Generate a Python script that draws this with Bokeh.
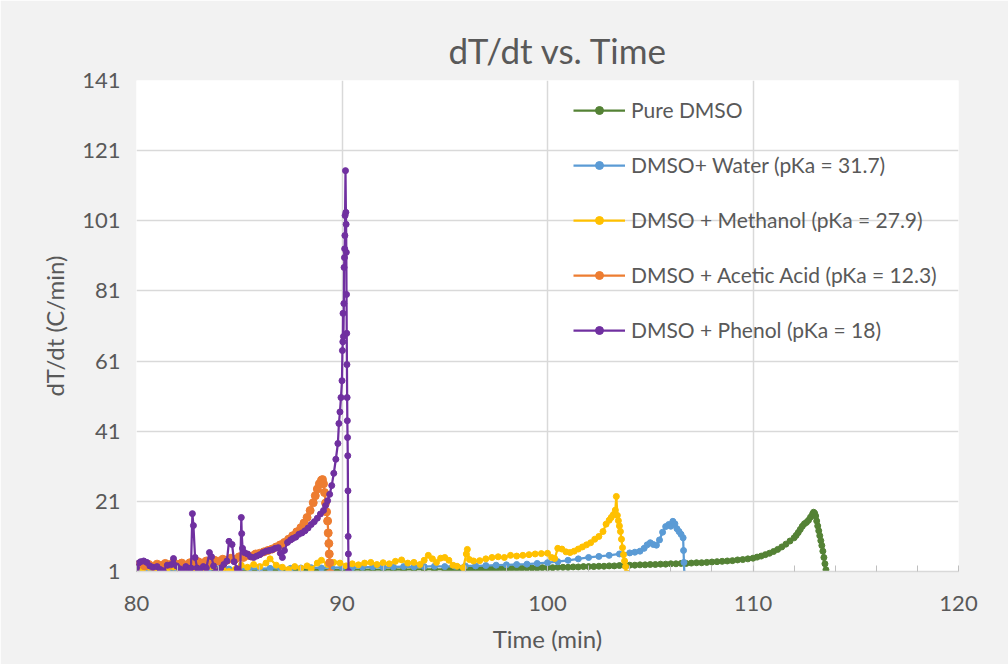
from bokeh.plotting import figure
from bokeh.models import Range1d, FixedTicker, SingleIntervalTicker, Legend, LegendItem
from bokeh.embed import file_html
from bokeh.resources import INLINE

FONT = "Lato"
TXT = "#595959"

title = "dT/dt vs. Time"
x_label = "Time (min)"
y_label = "dT/dt (C/min)"
y_ticks = [1, 21, 41, 61, 81, 101, 121, 141]

names = ["Pure DMSO", "DMSO+ Water (pKa = 31.7)", "DMSO + Methanol (pKa = 27.9)",
         "DMSO + Acetic Acid (pKa = 12.3)", "DMSO + Phenol (pKa = 18)"]
colors = ["#548235", "#5b9bd5", "#ffc000", "#ed7d31", "#7030a0"]

# Pure DMSO
dmso_t = [80.0, 80.5, 81.0, 81.5, 82.0, 82.5, 83.0, 83.5, 84.0, 84.5, 85.0, 85.5, 86.0, 86.5, 87.0,
          87.5, 88.0, 88.5, 89.0, 89.5, 90.0, 90.5, 91.0, 91.5, 92.0, 92.5, 93.0, 93.5, 94.0, 94.5,
          95.0, 95.25, 95.5, 95.75, 96.0, 96.25, 96.5, 96.75, 97.0, 97.25, 97.5, 97.75, 98.0, 98.25,
          98.5, 98.75, 99.0, 99.25, 99.5, 99.75, 100.0, 100.25, 100.5, 100.75, 101.0, 101.25, 101.5,
          101.75, 102.0, 102.25, 102.5, 102.75, 103.0, 103.25, 103.5, 103.75, 104.0, 104.25, 104.5,
          104.75, 105.0, 105.25, 105.5, 105.75, 106.0, 106.25, 106.5, 106.75, 107.0, 107.25, 107.5,
          107.75, 108.0, 108.25, 108.5, 108.75, 109.0, 109.25, 109.5, 109.75, 110.0,
          110.2, 110.4, 110.6, 110.8, 111.0, 111.2, 111.4, 111.6, 111.8, 112.0, 112.1, 112.2, 112.3,
          112.4, 112.5, 112.6, 112.7, 112.8, 112.9, 112.95, 113.0, 113.05, 113.1, 113.15, 113.2,
          113.25, 113.3, 113.35, 113.4, 113.45, 113.5, 113.55]
dmso_v = [1.1, 1.1, 1.2, 1.1, 1.2, 1.2, 1.2, 1.3, 1.2, 1.3, 1.3, 1.3, 1.3, 1.4, 1.3,
          1.4, 1.4, 1.4, 1.4, 1.5, 1.4, 1.5, 1.5, 1.5, 1.5, 1.6, 1.5, 1.6, 1.6, 1.6,
          1.6, 1.7, 1.6, 1.7, 1.7, 1.7, 1.8, 1.7, 1.8, 1.8, 1.8, 1.9, 1.8, 1.9,
          1.9, 1.9, 2.0, 2.0, 2.0, 2.1, 2.1, 2.1, 2.2, 2.2, 2.2, 2.3, 2.3,
          2.4, 2.4, 2.4, 2.5, 2.5, 2.6, 2.6, 2.7, 2.7, 2.8, 2.8, 2.9,
          2.9, 3.0, 3.0, 3.1, 3.1, 3.2, 3.2, 3.3, 3.3, 3.4, 3.5, 3.5,
          3.6, 3.7, 3.8, 3.9, 4.0, 4.1, 4.3, 4.4, 4.6, 4.8,
          5.1, 5.4, 5.8, 6.2, 6.7, 7.3, 8.0, 8.8, 9.7, 10.6, 11.3, 12.1, 13.0,
          13.9, 14.6, 15.0, 15.6, 16.5, 17.4, 17.9, 17.6, 16.8, 15.4, 14.0, 12.6,
          11.2, 9.8, 8.4, 6.8, 5.0, 3.2, 1.5]

# DMSO + Water
water_t = [80.0, 80.5, 81.0, 81.5, 82.0, 82.5, 83.0, 83.5, 84.0, 84.5, 85.0, 85.5, 86.0, 86.5,
           87.0, 87.5, 88.0, 88.5, 89.0, 89.5, 90.0, 90.5, 91.0, 91.5, 92.0, 92.5, 93.0, 93.5,
           94.0, 94.5, 95.0, 95.5, 96.0, 96.5, 97.0, 97.5, 98.0, 98.5, 99.0, 99.5, 100.0, 100.5,
           101.0, 101.5, 102.0, 102.5, 103.0, 103.5, 104.0, 104.25, 104.5, 104.7, 104.85, 105.0,
           105.15, 105.3, 105.45, 105.6, 105.75, 105.9, 106.0, 106.1, 106.2, 106.3, 106.4, 106.5,
           106.6, 106.62, 106.64, 106.66]
water_v = [1.5, 1.4, 1.6, 1.5, 1.6, 1.7, 1.6, 1.7, 1.8, 1.7, 1.8, 1.9, 1.8, 1.9,
           2.0, 1.9, 2.0, 2.1, 2.0, 2.1, 2.2, 2.1, 2.2, 2.3, 2.2, 2.3, 2.4, 2.3,
           2.4, 2.5, 2.4, 2.5, 2.6, 2.6, 2.7, 2.8, 2.9, 3.0, 3.1, 3.3, 3.5, 3.8,
           4.2, 4.6, 5.0, 5.3, 5.6, 6.0, 6.3, 6.5, 6.8, 7.6, 8.6, 9.2,
           8.7, 8.5, 10.0, 12.2, 13.8, 14.4, 13.9, 15.3, 14.6, 13.2, 12.4, 11.6,
           10.6, 7.0, 3.6, 0.3]

# DMSO + Methanol
meoh_t = [80.0, 80.3, 80.6, 80.9, 81.2, 81.5, 81.8, 82.1, 82.4, 82.7, 83.0, 83.3, 83.6, 83.9,
          84.2, 84.5, 84.8, 85.1, 85.4, 85.7, 86.0, 86.3, 86.5, 86.8, 87.1, 87.4, 87.7, 88.0,
          88.3, 88.5, 88.8, 89.0, 89.3, 89.6, 89.9, 90.2, 90.5, 90.8, 91.1, 91.4, 91.7, 92.0,
          92.3, 92.6, 92.9, 93.2, 93.5, 93.8, 94.0, 94.2, 94.4, 94.6, 94.8, 95.0, 95.2, 95.4,
          95.6, 95.9, 96.05, 96.1, 96.2, 96.4, 96.7, 97.0, 97.3, 97.6, 97.9, 98.2, 98.5, 98.8,
          99.1, 99.4, 99.7, 100.0, 100.2, 100.35, 100.5, 100.7, 100.9, 101.1, 101.3, 101.5,
          101.7, 101.9, 102.1, 102.3, 102.5, 102.7, 102.85, 103.0, 103.1, 103.2, 103.3, 103.35,
          103.4, 103.45, 103.5, 103.55, 103.6, 103.65, 103.7, 103.75, 103.8, 103.85]
meoh_v = [2.0, 1.7, 2.2, 1.6, 2.4, 1.8, 2.3, 1.5, 2.1, 1.4, 2.6, 1.8, 2.4, 1.2,
          2.0, 1.0, 1.6, 2.8, 2.2, 3.0, 2.4, 3.4, 4.6, 2.8, 2.2, 1.6, 2.4, 1.9,
          2.6, 1.7, 3.4, 4.2, 3.0, 3.6, 3.4, 2.6, 3.2, 2.9, 3.4, 3.6, 3.0, 3.5,
          3.2, 3.9, 4.3, 3.4, 3.6, 3.0, 4.2, 5.6, 4.6, 3.6, 4.8, 5.0, 4.2, 2.8,
          2.5, 2.1, 6.0, 7.3, 4.4, 4.0, 4.1, 4.6, 5.0, 5.2, 5.0, 5.6, 5.4, 5.6,
          5.8, 6.0, 6.1, 6.2, 5.0, 4.7, 7.6, 7.4, 6.6, 6.4, 6.8, 7.4,
          8.0, 8.6, 9.2, 10.2, 11.0, 12.4, 14.5, 15.6, 16.4, 17.2, 18.5, 22.4,
          17.0, 15.5, 14.0, 12.4, 10.2, 7.8, 5.8, 4.0, 2.4, 0.6]

# DMSO + Acetic Acid
acid_t = [80.0, 80.2, 80.4, 80.6, 80.8, 81.0, 81.2, 81.4, 81.6, 81.8, 82.0, 82.2, 82.4, 82.6,
          82.8, 83.0, 83.2, 83.4, 83.6, 83.8, 84.0, 84.2, 84.4, 84.6, 84.8, 85.0, 85.2, 85.4,
          85.6, 85.8, 86.0, 86.2, 86.4, 86.6, 86.8, 87.0, 87.2, 87.4, 87.6, 87.8, 88.0, 88.15,
          88.3, 88.45, 88.6, 88.7, 88.8, 88.9, 89.0, 89.05, 89.1, 89.15, 89.2, 89.25, 89.3,
          89.33, 89.36, 89.38, 89.4, 89.42]
acid_v = [2.8, 3.2, 2.6, 3.0, 2.4, 3.1, 2.7, 3.3, 2.9, 3.6, 3.0, 3.4, 2.8, 3.5,
          3.2, 3.8, 3.4, 4.0, 3.6, 4.2, 3.9, 4.5, 4.2, 4.8, 4.5, 5.2, 5.0, 5.6,
          5.4, 6.0, 6.2, 6.6, 7.0, 7.4, 8.0, 8.6, 9.3, 10.2, 11.2, 12.3, 13.5, 14.8,
          16.4, 18.4, 20.6, 22.6, 24.5, 26.0, 27.0, 27.2, 26.0, 23.5, 20.5, 18.0, 15.4,
          12.0, 9.0, 6.0, 3.5, 0.5]

# DMSO + Phenol
phenol_t = [80.0, 80.1, 80.2, 80.35, 80.5, 80.65, 80.8, 81.0, 81.15, 81.3, 81.5, 81.7, 81.8,
            81.95, 82.1, 82.25, 82.4, 82.55, 82.65, 82.72, 82.77, 82.85, 82.95, 83.1, 83.25,
            83.4, 83.55, 83.65, 83.75, 83.85, 83.95, 84.1, 84.25, 84.4, 84.5, 84.65, 84.75,
            84.9, 85.05, 85.1, 85.12, 85.16, 85.25, 85.4, 85.55, 85.7, 85.85, 86.0, 86.15,
            86.3, 86.45, 86.6, 86.75, 86.9, 87.0, 87.1, 87.2, 87.35, 87.5, 87.6, 87.75, 87.9,
            88.05, 88.2, 88.35, 88.5, 88.65, 88.8, 88.95, 89.1, 89.2, 89.3, 89.4, 89.5, 89.6,
            89.7, 89.8, 89.85, 89.9, 89.95, 90.0, 90.02, 90.04, 90.05, 90.07, 90.09, 90.1,
            90.12, 90.13, 90.14, 90.15, 90.17, 90.19, 90.2, 90.21, 90.22, 90.23, 90.24, 90.25,
            90.26, 90.27, 90.28, 90.29, 90.3, 90.31, 90.32]
phenol_v = [2.0, 3.4, 3.8, 4.0, 3.6, 2.6, 2.2, 2.4, 1.6, 1.2, 2.8, 3.0, 4.7,
            2.6, 1.8, 1.3, 2.4, 1.5, 2.0, 17.5, 14.1, 5.0, 2.0, 1.6, 2.4,
            2.0, 6.4, 5.2, 2.6, 0.8, 1.0, 2.0, 3.0, 4.0, 9.6, 8.7, 3.8,
            1.8, 0.6, 16.4, 11.8, 7.6, 6.4, 6.0, 5.2, 5.0, 5.4, 5.8, 6.4,
            6.8, 7.0, 7.2, 7.6, 7.8, 6.2, 5.0, 7.0, 9.3, 10.0, 10.4, 10.8, 11.6,
            12.0, 12.6, 13.4, 14.4, 15.2, 16.2, 17.4, 18.4, 19.8, 21.2, 23.0, 25.5, 29.0,
            33.0, 37.5, 43.2, 46.5, 50.6, 55.4, 64.0, 66.5, 74.6, 68.0, 77.4, 87.7,
            90.5, 93.0, 96.8, 102.5, 115.3, 103.4, 100.0, 92.0, 80.0, 68.9, 60.0, 50.6,
            44.0, 39.2, 34.0, 24.0, 11.0, 6.0, 1.0]

series_t = [dmso_t, water_t, meoh_t, acid_t, phenol_t]
series_v = [dmso_v, water_v, meoh_v, acid_v, phenol_v]
marker_sizes = [6, 6, 6, 8, 6]

p = figure(width=1008, height=664, x_range=Range1d(80, 120), y_range=Range1d(1, 141),
           output_backend="svg", toolbar_location=None,
           min_border_left=136, min_border_right=50, min_border_top=80, min_border_bottom=93)
p.background_fill_color = "white"
p.border_fill_color = "#f2f2f2"
p.outline_line_color = None

p.title.text = title
p.title.align = "left"
p.title.text_font = FONT
p.title.text_font_size = "35px"
p.title.text_font_style = "normal"
p.title.text_color = TXT
p.title.offset = 312
p.title.standoff = 20

p.xaxis.ticker = SingleIntervalTicker(interval=10, num_minor_ticks=5)
p.yaxis.ticker = FixedTicker(ticks=y_ticks)
p.xgrid.ticker = SingleIntervalTicker(interval=10)
p.ygrid.ticker = FixedTicker(ticks=y_ticks)
for g in (p.xgrid, p.ygrid):
    g.grid_line_color = "#d9d9d9"
    g.grid_line_width = 1.5

p.xaxis.axis_label = x_label
p.yaxis.axis_label = y_label
for ax in (p.xaxis, p.yaxis):
    ax.axis_label_text_font = FONT
    ax.axis_label_text_font_size = "24px"
    ax.axis_label_text_font_style = "normal"
    ax.axis_label_text_color = TXT
    ax.major_label_text_font = FONT
    ax.major_label_text_font_size = "22px"
    ax.major_label_text_color = TXT
    ax.major_tick_line_color = None
p.xaxis.axis_line_color = "#d9d9d9"
p.xaxis.axis_line_width = 1.5
p.xaxis.minor_tick_in = 6
p.xaxis.minor_tick_out = 0
p.xaxis.minor_tick_line_color = "#bfbfbf"
p.xaxis.major_label_standoff = 18
p.xaxis.axis_label_standoff = 10
p.yaxis.axis_line_color = None
p.yaxis.minor_tick_line_color = None
p.yaxis.major_label_standoff = 10
p.yaxis.axis_label_standoff = 10

items = []
for name, t, v, c, ms in zip(names, series_t, series_v, colors, marker_sizes):
    r1 = p.line(t, v, line_color=c, line_width=2.25)
    r2 = p.scatter(t, v, size=ms, fill_color=c, line_color=c)
    items.append(LegendItem(label=name, renderers=[r1, r2]))

legend = Legend(items=items, location=(437, 229), orientation="vertical",
                glyph_width=52, glyph_height=20, label_height=20, label_standoff=6,
                spacing=30, padding=0, margin=0,
                label_text_font=FONT, label_text_font_size="21px", label_text_color=TXT,
                background_fill_alpha=0, border_line_color=None)
p.add_layout(legend, "center")

open("out.html", "w").write(file_html(p, INLINE))
